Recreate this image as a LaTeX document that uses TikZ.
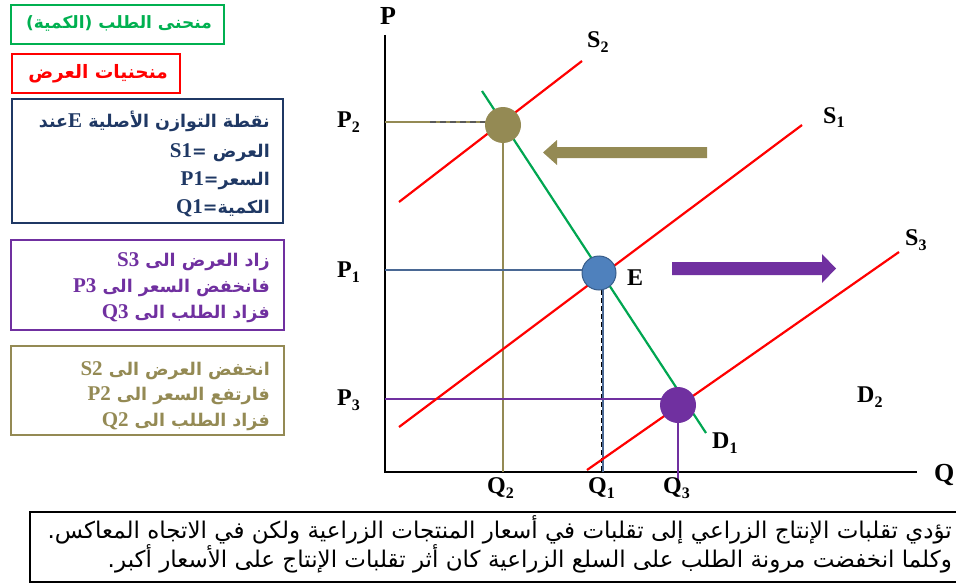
\documentclass[tikz,border=0pt]{standalone}
\usepackage{fontspec}
\setmainfont{Liberation Serif}
\newfontfamily\arabicfont[Script=Arabic]{DejaVu Sans}
\TeXXeTstate=1
\definecolor{cgreen}{HTML}{00B050}
\definecolor{dgreen}{HTML}{00A651}
\definecolor{cred}{HTML}{FF0000}
\definecolor{cnavy}{HTML}{1F3864}
\definecolor{cpurple}{HTML}{7030A0}
\definecolor{colive}{HTML}{948A54}
\definecolor{cblue}{HTML}{4F81BD}
\definecolor{cblued}{HTML}{385D8A}
\definecolor{cguide}{HTML}{4A6894}
\newcommand\AR[1]{\beginR #1\endR}
\newcommand\LT[1]{\beginL{\rmfamily\bfseries\fontsize{21}{21}\selectfont #1}\endL}
\newcommand\lab[2]{#1\raisebox{-5pt}{\fontsize{16}{16}\selectfont #2}}
\begin{document}
\begin{tikzpicture}[x=1pt,y=-1pt,
  frame/.style={draw, line width=2.2pt, anchor=north west, inner sep=0pt},
  artext/.style={anchor=base east, inner sep=0pt, font=\arabicfont\bfseries\fontsize{17.5}{20}\selectfont},
  lbl/.style={anchor=base west, inner sep=0pt, font=\rmfamily\bfseries\fontsize{24}{24}\selectfont},
  axisline/.style={line width=2.6pt, black},
  supply/.style={line width=2.2pt, cred},
  guide/.style={line width=2.2pt},
  dot/.style={circle, inner sep=0pt, minimum size=#1},
  note/.style={anchor=base east, inner sep=0pt, font=\arabicfont\fontsize{23}{26}\selectfont}
]
\useasboundingbox (0,0) rectangle (956,586);
% ---------- left boxes ----------
\node[frame, draw=cgreen, minimum width=213pt, minimum height=39pt] (fD) at (10,4) {};
\node[artext, text=cgreen, font=\arabicfont\bfseries\fontsize{17}{20}\selectfont] (tD) at (212,29) {\AR{منحنى الطلب (الكمية)}};
\node[frame, draw=cred, minimum width=168pt, minimum height=39pt] (fS) at (11,53) {};
\node[artext, text=cred, font=\arabicfont\bfseries\fontsize{18.5}{20}\selectfont] (tS) at (168,78) {\AR{منحنيات العرض}};
\node[frame, draw=cnavy, minimum width=271pt, minimum height=124pt] (fE) at (11,98) {};
\node[artext, text=cnavy] (tE1) at (270,128) {\AR{نقطة التوازن الأصلية \LT{E}عند}};
\node[artext, text=cnavy] (tE2) at (270,157) {\AR{العرض =\LT{S1}}};
\node[artext, text=cnavy] (tE3) at (270,185) {\AR{السعر=\LT{P1}}};
\node[artext, text=cnavy] (tE4) at (270,213) {\AR{الكمية=\LT{Q1}}};
\node[frame, draw=cpurple, minimum width=273pt, minimum height=90pt] (fU) at (10,239) {};
\node[artext, text=cpurple] (tU1) at (270,266) {\AR{زاد العرض الى \LT{S3}}};
\node[artext, text=cpurple] (tU2) at (270,292) {\AR{فانخفض السعر الى \LT{P3}}};
\node[artext, text=cpurple] (tU3) at (270,318) {\AR{فزاد الطلب الى \LT{Q3}}};
\node[frame, draw=colive, minimum width=273pt, minimum height=89pt] (fO) at (10,345) {};
\node[artext, text=colive] (tO1) at (270,375) {\AR{انخفض العرض الى \LT{S2}}};
\node[artext, text=colive] (tO2) at (270,400) {\AR{فارتفع السعر الى \LT{P2}}};
\node[artext, text=colive] (tO3) at (270,426) {\AR{فزاد الطلب الى \LT{Q2}}};
% ---------- axes ----------
\coordinate (O) at (385,472);
\coordinate (Ytop) at (385,35);
\coordinate (Xend) at (917,472);
\draw[axisline] (Ytop) -- (O) -- (Xend);
% ---------- key points ----------
\coordinate (cA) at (503,125);
\coordinate (cE) at (599,273);
\coordinate (cC) at (678,405);
\coordinate (yP2) at (385,122);
\coordinate (yP1) at (385,270);
\coordinate (yP3) at (385,399);
\coordinate (xQ2) at (503,472);
\coordinate (xQ1) at (603,472);
\coordinate (xQ3) at (678,480);
% ---------- guide lines ----------
\draw[guide, colive] (yP2) -- (cA |- yP2);
\draw[line width=1.2pt, black!65, dash pattern=on 6pt off 4pt] (430,122) -- (485,122);
\draw[guide, colive] (cA) -- (xQ2);
\draw[guide, cguide] (yP1) -- (cE |- yP1);
\draw[guide, cguide] (603,290) -- (xQ1);
\draw[line width=1pt, black, dash pattern=on 5pt off 3pt] (601.5,290) -- (601.5,472);
\draw[guide, cpurple] (yP3) -- (cC |- yP3);
\draw[guide, cpurple] (cC) -- (xQ3);
% ---------- curves ----------
\coordinate (s2a) at (399,202); \coordinate (s2b) at (582,61);
\coordinate (s1a) at (399,427); \coordinate (s1b) at (802,125);
\coordinate (s3a) at (587,470); \coordinate (s3b) at (899,252);
\coordinate (d1a) at (482,91);  \coordinate (d1b) at (706,433);
\draw[supply] (s2a) -- (s2b);
\draw[supply] (s1a) -- (s1b);
\draw[supply] (s3a) -- (s3b);
\draw[line width=2.2pt, dgreen] (d1a) -- (d1b);
% ---------- equilibrium dots ----------
\node[dot=36pt, fill=colive] (A) at (cA) {};
\node[dot=34pt, fill=cblue, draw=cblued, line width=1pt] (E) at (cE) {};
\node[dot=36pt, fill=cpurple] (C) at (cC) {};
% ---------- shift arrows ----------
\fill[colive] (707,147) -- (557,147) -- (557,140) -- (543,152.5) -- (557,165) -- (557,158) -- (707,158) -- cycle;
\fill[cpurple] (672,262) -- (822,262) -- (822,254) -- (836,268.5) -- (822,283) -- (822,275) -- (672,275) -- cycle;
% ---------- labels ----------
\node[lbl, font=\rmfamily\bfseries\fontsize{26}{26}\selectfont] (lP) at (380,25) {P};
\node[lbl, font=\rmfamily\bfseries\fontsize{26}{26}\selectfont] (lQ) at (934,481) {Q};
\node[lbl] (lP2) at (337,128) {\lab{P}{2}};
\node[lbl] (lP1) at (337,277) {\lab{P}{1}};
\node[lbl] (lP3) at (337,405) {\lab{P}{3}};
\node[lbl] (lQ2) at (487,493) {\lab{Q}{2}};
\node[lbl] (lQ1) at (588,493) {\lab{Q}{1}};
\node[lbl] (lQ3) at (663,493) {\lab{Q}{3}};
\node[lbl] (lS2) at (587,48) {\lab{S}{2}};
\node[lbl] (lS1) at (823,123) {\lab{S}{1}};
\node[lbl] (lS3) at (905,245) {\lab{S}{3}};
\node[lbl] (lD1) at (712,448) {\lab{D}{1}};
\node[lbl] (lD2) at (857,402) {\lab{D}{2}};
\node[lbl] (lE) at (627,285) {E};
% ---------- bottom note ----------
\draw[line width=2.6pt, black] (960,512) -- (30,512) -- (30,582) -- (960,582);
\node[note] (n1) at (952,538)
  {\AR{تؤدي تقلبات الإنتاج الزراعي إلى تقلبات في أسعار المنتجات الزراعية ولكن في الاتجاه المعاكس.}};
\node[note] (n2) at (952,567)
  {\AR{وكلما انخفضت مرونة الطلب على السلع الزراعية كان أثر تقلبات الإنتاج على الأسعار أكبر.}};
\end{tikzpicture}
\end{document}
